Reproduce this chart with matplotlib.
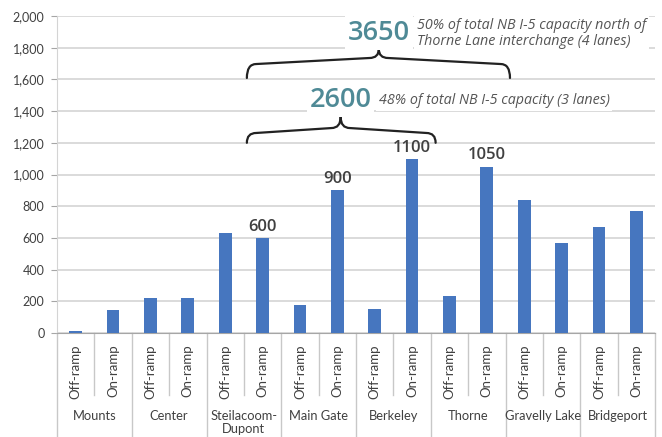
import matplotlib.pyplot as plt
from matplotlib.path import Path
from matplotlib.patches import PathPatch
from matplotlib.lines import Line2D

# ramp volumes per interchange, northbound I-5
interchanges = ["Mounts", "Center", "Steilacoom-\nDupont", "Main Gate",
                "Berkeley", "Thorne", "Gravelly Lake", "Bridgeport"]
ramp_types = ["Off-ramp", "On-ramp"]
off_ramp = [10, 220, 630, 177, 150, 233, 840, 670]
on_ramp = [145, 220, 600, 900, 1100, 1050, 568, 770]
labelled_on_ramps = ["Steilacoom-\nDupont", "Main Gate", "Berkeley", "Thorne"]

capacity_3_lanes = 2600
capacity_4_lanes = 3650
note_3_lanes = "48% of total NB I-5 capacity (3 lanes)"
note_4_lanes = "50% of total NB I-5 capacity north of\nThorne Lane interchange (4 lanes)"

bar_color = "#4676bf"
teal = "#4f8a96"
grid_gray = "#d4d4d4"
axis_gray = "#a6a6a6"
text_gray = "#404040"

# interleave off/on ramps into one flat list of bars
values = []
ramp_labels = []
for off, on in zip(off_ramp, on_ramp):
    values += [off, on]
    ramp_labels += ramp_types
xs = list(range(len(values)))

fig = plt.figure(figsize=(6.62, 4.37), dpi=100)
ax = fig.add_axes([57 / 662, 104 / 437, 598 / 662, 317 / 437])

ax.bar(xs, values, width=0.34, color=bar_color, zorder=3)
ax.set_xlim(-0.5, len(values) - 0.5)
ax.set_ylim(0, 2000)
ax.set_yticks(range(0, 2001, 200))
ax.set_yticklabels([f"{v:,}" for v in range(0, 2001, 200)],
                   fontfamily="Lato", fontsize=9, color=text_gray)
ax.yaxis.grid(True, color=grid_gray, linewidth=1.2, zorder=0)
ax.tick_params(axis="y", length=4, color=axis_gray, pad=5)

ax.set_xticks(xs)
ax.set_xticklabels(ramp_labels, rotation=90, fontfamily="Lato",
                   fontsize=9.5, color=text_gray)
ax.tick_params(axis="x", length=0, pad=8)

for side in ["top", "right"]:
    ax.spines[side].set_visible(False)
ax.spines["left"].set_color(grid_gray)
ax.spines["bottom"].set_color(axis_gray)

# two-level category axis: separators and interchange names
trans = ax.get_xaxis_transform()
for i in range(len(values) + 1):
    x = i - 0.5
    depth = -0.33 if i % 2 == 0 else -0.196
    ax.add_line(Line2D([x, x], [0, depth], transform=trans, color="#c8c8c8",
                       linewidth=1, clip_on=False))
for g, name in enumerate(interchanges):
    ax.text(2 * g + 0.5, -0.242, name, transform=trans, ha="center", va="top",
            fontfamily="Lato", fontsize=9.3, color=text_gray, linespacing=1.1)

# value labels on selected on-ramps
for name in labelled_on_ramps:
    g = interchanges.index(name)
    v = on_ramp[g]
    ax.annotate(f"{v}", (2 * g + 1, v), xytext=(0, 8), textcoords="offset points",
                ha="center", va="center", fontfamily="Open Sans", fontweight="semibold",
                fontsize=12, color=text_gray)


def brace(x0, x1, xm, y_tip, y_corner, y_mid, y_peak, r=0.25):
    verts = [(x0, y_tip), (x0, y_corner), (x0 + r, y_corner),
             (xm - r, y_mid), (xm, y_mid), (xm, y_peak),
             (xm, y_mid), (xm + r, y_mid),
             (x1 - r, y_corner), (x1, y_corner), (x1, y_tip)]
    codes = [Path.MOVETO, Path.CURVE3, Path.CURVE3,
             Path.LINETO, Path.CURVE3, Path.CURVE3,
             Path.CURVE3, Path.CURVE3,
             Path.LINETO, Path.CURVE3, Path.CURVE3]
    ax.add_patch(PathPatch(Path(verts, codes), fill=False, edgecolor="#222222",
                           linewidth=1.6, zorder=4, capstyle="round"))


box = dict(facecolor="white", edgecolor="none", pad=2)

brace(4.58, 9.63, 7.09, 1200, 1262, 1293, 1363)
ax.text(7.09, 1468, f"{capacity_3_lanes}", ha="center", va="center",
        fontfamily="Open Sans", fontweight="semibold", fontsize=19.5, color=teal,
        bbox=box, zorder=5)
ax.text(8.11, 1464, note_3_lanes, ha="left", va="center", fontfamily="Open Sans",
        fontstyle="italic", fontsize=10.3, color="#555555", bbox=box, zorder=5)

brace(4.58, 11.62, 8.11, 1609, 1697, 1735, 1792)
ax.text(8.11, 1893, f"{capacity_4_lanes}", ha="center", va="center",
        fontfamily="Open Sans", fontweight="semibold", fontsize=19.5, color=teal,
        bbox=box, zorder=5)
ax.text(9.13, 1890, note_4_lanes, ha="left", va="center", fontfamily="Open Sans",
        fontstyle="italic", fontsize=10.3, color="#555555", linespacing=1.15,
        bbox=box, zorder=5)

fig.savefig("out.png", dpi=100)
